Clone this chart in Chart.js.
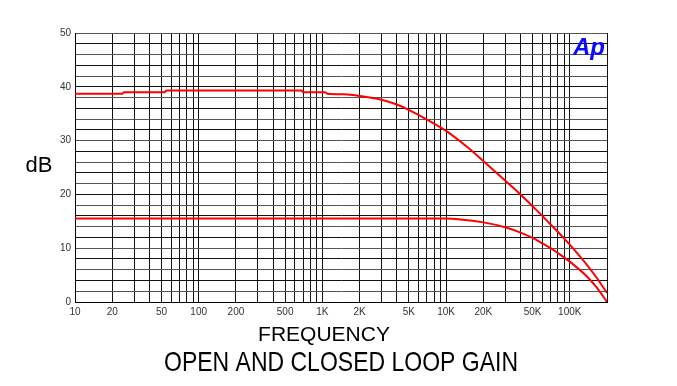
<!DOCTYPE html>
<html>
<head>
<meta charset="utf-8">
<script src="https://cdn.jsdelivr.net/npm/chart.js@4/dist/chart.umd.min.js"></script>
<style>
  body { margin: 0; background: #fff; }
  #wrap { width: 677px; height: 386px; position: relative; }
</style>
</head>
<body>
<div id="wrap"><canvas id="gainChart"></canvas></div>
<script>
// frequencies (Hz) and gain (dB)
const upperFreq = [10, 24, 25, 53, 55, 680, 700, 1050, 1100, 1500, 2000, 3000, 4000, 5000, 7000, 10000, 15000, 20000, 30000, 40000, 50000, 60000, 70000, 80000, 90000, 100000, 137000, 165000, 200000];
const upperGain = [38.7, 38.7, 39.0, 39.0, 39.3, 39.3, 39.0, 39.0, 38.7, 38.6, 38.3, 37.6, 36.7, 35.7, 33.9, 31.8, 28.7, 26.2, 22.6, 20.0, 17.8, 16.0, 14.4, 13.05, 11.8, 10.65, 6.95, 4.5, 1.7];

const lowerFreq = [10, 100, 1000, 10000, 13000, 20000, 30000, 40000, 50000, 60000, 70000, 80000, 90000, 100000, 137000, 165000, 200000];
const lowerGain = [15.5, 15.5, 15.5, 15.5, 15.35, 14.8, 13.9, 12.9, 11.9, 10.9, 10.0, 9.1, 8.3, 7.5, 4.8, 2.7, 0];

// x grid at every 1..9 of each decade, labels only on some
const gridFreqs = [];
for (let d = 10; d <= 100000; d *= 10) {
    for (let m = 1; m <= 9; m++) {
        if (d * m <= 200000) gridFreqs.push(d * m);
    }
}
const labelFreqs = [10, 20, 50, 100, 200, 500, 1000, 2000, 5000, 10000, 20000, 50000, 100000];
const labelTexts = ['10', '20', '50', '100', '200', '500', '1K', '2K', '5K', '10K', '20K', '50K', '100K'];

function toPoints(xs, ys) {
    return xs.map((x, i) => ({ x: x, y: ys[i] }));
}

// extra text: axis titles, caption and logo
const textPlugin = {
    id: 'textPlugin',
    afterDraw(chart) {
        const ctx = chart.ctx;
        const area = chart.chartArea;
        ctx.save();
        ctx.fillStyle = '#000';
        ctx.textAlign = 'center';
        ctx.textBaseline = 'middle';
        ctx.font = '22px "Liberation Sans", Arial, sans-serif';
        ctx.fillText('dB', 39, 166);
        ctx.font = '21px "Liberation Sans", Arial, sans-serif';
        ctx.fillText('FREQUENCY', 324, 335);
        ctx.save();
        ctx.translate(341, 363);
        ctx.scale(1, 1.2);
        ctx.font = '23px "Liberation Sans", Arial, sans-serif';
        ctx.fillText('OPEN AND CLOSED LOOP GAIN', 0, 0);
        ctx.restore();
        // logo
        ctx.fillStyle = '#0a0aff';
        ctx.font = 'italic bold 24px "Liberation Sans", Arial, sans-serif';
        ctx.textAlign = 'right';
        ctx.fillText('Ap', area.right - 2, 48);
        ctx.restore();
    }
};

const config = {
    type: 'line',
    data: {
        datasets: [
            {
                label: 'Open loop',
                data: toPoints(upperFreq, upperGain),
                borderColor: '#ff0000',
                borderWidth: 2,
                pointRadius: 0,
                cubicInterpolationMode: 'monotone',
                fill: false
            },
            {
                label: 'Closed loop',
                data: toPoints(lowerFreq, lowerGain),
                borderColor: '#ff0000',
                borderWidth: 2,
                pointRadius: 0,
                cubicInterpolationMode: 'monotone',
                fill: false
            }
        ]
    },
    options: {
        responsive: true,
        maintainAspectRatio: false,
        animation: false,
        layout: { padding: { left: 0, top: 33, right: 70, bottom: 0 } },
        plugins: {
            legend: { display: false },
            tooltip: { enabled: false }
        },
        scales: {
            x: {
                type: 'logarithmic',
                min: 10,
                max: 200000,
                afterBuildTicks: function (scale) {
                    scale.ticks = gridFreqs.map(v => ({ value: v }));
                },
                afterFit: function (scale) { scale.height = 84; },
                ticks: {
                    autoSkip: false,
                    maxRotation: 0,
                    padding: 4,
                    color: '#333',
                    font: { size: 10, family: '"Liberation Sans", Arial, sans-serif' },
                    callback: function (value) {
                        const i = labelFreqs.indexOf(value);
                        return i >= 0 ? labelTexts[i] : '';
                    }
                },
                grid: { color: '#111', lineWidth: 1, drawTicks: false },
                border: { color: '#000', width: 1 }
            },
            y: {
                min: 0,
                max: 50,
                afterFit: function (scale) { scale.width = 75; },
                ticks: {
                    stepSize: 2,
                    autoSkip: false,
                    padding: 4,
                    color: '#333',
                    font: { size: 10, family: '"Liberation Sans", Arial, sans-serif' },
                    callback: function (value) {
                        return value % 10 === 0 ? String(value) : '';
                    }
                },
                grid: {
                    color: function (c) { return c.index % 2 === 0 ? '#111' : '#555'; },
                    lineWidth: 1,
                    drawTicks: false
                },
                border: { color: '#000', width: 1 }
            }
        }
    },
    plugins: [textPlugin]
};

new Chart(document.getElementById('gainChart'), config);
</script>
</body>
</html>
